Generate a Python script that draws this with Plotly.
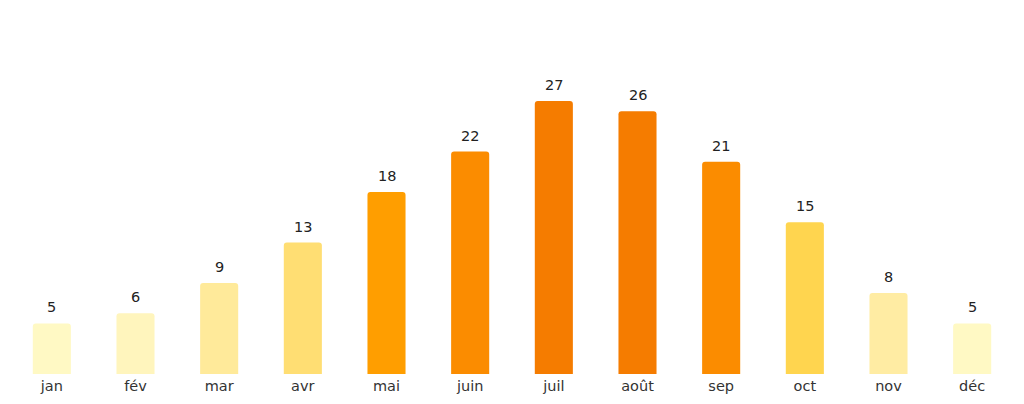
import plotly.graph_objects as go

months = ["jan", "fév", "mar", "avr", "mai", "juin", "juil", "août", "sep", "oct", "nov", "déc"]
values = [5, 6, 9, 13, 18, 22, 27, 26, 21, 15, 8, 5]
colors = ["#FFF9C4", "#FFF5BD", "#FFEA9A", "#FFDE73", "#FF9E00", "#FB8C00",
          "#F57C00", "#F57C00", "#FB8C00", "#FFD54F", "#FFECA3", "#FFF9C4"]

fig = go.Figure()
fig.add_trace(go.Bar(
    x=months, y=values,
    marker=dict(color=colors, line=dict(width=0), cornerradius=3),
    width=0.455,
    hoverinfo="x+y",
))

for m, v in zip(months, values):
    fig.add_annotation(x=m, y=v, text=str(v), showarrow=False,
                       yanchor="bottom", yshift=6,
                       font=dict(family="DejaVu Sans", size=14.5, color="#222222"))

fig.update_layout(
    width=1024, height=404,
    margin=dict(l=2, r=18, t=0, b=38),
    paper_bgcolor="white", plot_bgcolor="white",
    showlegend=False,
    font=dict(family="DejaVu Sans", size=14.5, color="#333333"),
    xaxis=dict(showgrid=False, zeroline=False, showline=False, ticks="",
               ticklabelstandoff=1,
               tickfont=dict(size=14.5, color="#333333"), range=[-0.5, 11.5]),
    yaxis=dict(showgrid=False, zeroline=False, showline=False, showticklabels=False,
               range=[0, 36.2]),
)

fig.write_html("out.html")
